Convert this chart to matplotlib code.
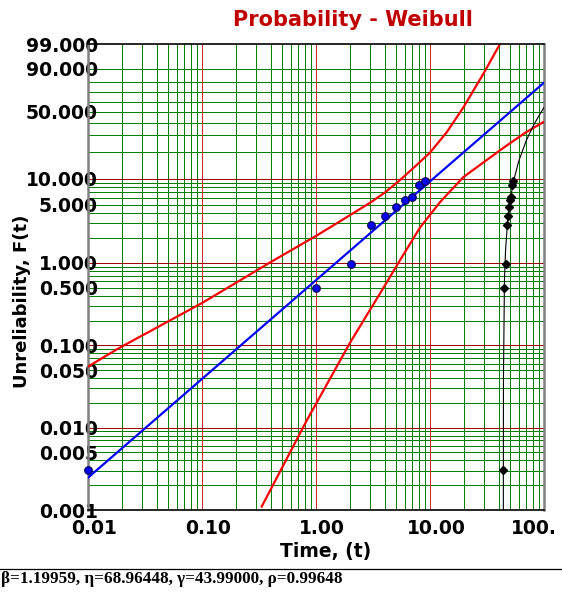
import numpy as np
import matplotlib
matplotlib.use("Agg")
import matplotlib.pyplot as plt
from matplotlib.lines import Line2D
from matplotlib.transforms import ScaledTranslation

# fitted parameters shown under the chart
beta, eta, gamma, rho = 1.19959, 68.96448, 43.99000, 0.99648

# failure times and unreliability (%)
times = np.array([44, 45, 46, 47, 48, 49, 50, 51, 52, 53], dtype=float)
unrel = np.array([0.0031, 0.496, 0.96, 2.84, 3.63, 4.7, 5.7, 6.1, 8.47, 9.4])

# blue fit line (shifted time t - gamma), straight on this paper
fit_t = [0.01, 100.0]
fit_F = [0.00247, 79.0]

# confidence bounds (red)
upper_t = [0.01, 0.0185, 0.1, 0.408, 1.0, 1.47, 2.98, 4.03, 5.46, 7.38, 10.0, 14.0, 19.6, 29.4, 41.1]
upper_F = [0.0553, 0.092, 0.327, 1.04, 2.12, 2.92, 5.27, 6.98, 9.73, 13.85, 19.8, 32.2, 54.1, 86.5, 99.0]
lower_t = [0.334, 0.828, 1.99, 3.89, 5.46, 8.17, 12.25, 19.6, 30.4, 45.5, 68.1, 98.7]
lower_F = [0.0011, 0.0122, 0.108, 0.496, 1.08, 2.67, 5.37, 10.5, 15.9, 22.9, 31.8, 40.4]

# black curve in unshifted time
curve_t = [43.995, 44.0, 44.09, 44.99, 46.0, 48.0, 50.0, 54.0, 60.0, 70.0, 80.0, 90.0, 100.0]
curve_F = [0.001, 0.00247, 0.0392, 0.62, 1.43, 3.24, 5.21, 9.40, 15.9, 26.7, 36.8, 45.9, 54.1]

yticks = [0.001, 0.005, 0.01, 0.05, 0.1, 0.5, 1, 5, 10, 50, 90, 99]
xticks = [0.01, 0.1, 1, 10, 100]
xlabels = ["0.01", "0.10", "1.00", "10.00", "100."]


def fwd(p):
    p = np.clip(np.asarray(p, dtype=float), 1e-10, 100 - 1e-9)
    return np.log(-np.log1p(-p / 100.0))


def inv(y):
    return 100.0 * (1.0 - np.exp(-np.exp(y)))


fig = plt.figure(figsize=(5.62, 5.92), dpi=100)
ax = fig.add_axes([88 / 562, 1 - 510 / 592, (544 - 88) / 562, (510 - 44) / 592])
ax.set_xscale("log")
ax.set_yscale("function", functions=(fwd, inv))
ax.set_xlim(0.01, 100)
ax.set_ylim(0.001, 99)

green = "#008000"
gw = 0.72

# grid
for k in [-2, -1, 0, 1]:
    for m in range(2, 10):
        ax.axvline(m * 10.0 ** k, color=green, lw=gw, zorder=1, antialiased=False)
for v in [0.1, 1, 10]:
    ax.axvline(v, color="#cc2a2a", lw=gw, zorder=1.2, antialiased=False)
for k in [-3, -2, -1, 0, 1]:
    for m in range(1, 10):
        v = m * 10.0 ** k
        if v <= 0.001 or v > 95:
            continue
        ax.axhline(v, color="#a00000" if m == 1 else green, lw=gw,
                   zorder=1.2 if m == 1 else 1, antialiased=False)

ax.plot(upper_t, upper_F, color="#ff0000", lw=1.6, zorder=3)
ax.plot(lower_t, lower_F, color="#ff0000", lw=1.6, zorder=3)
ax.plot(fit_t, fit_F, color="#0000ff", lw=1.6, zorder=3)
ax.plot(curve_t, curve_F, color="black", lw=0.8, zorder=3)
ax.plot(times - gamma, unrel, "o", ms=5.5, mfc="#0000ee", mec="#000055",
        mew=0.8, zorder=4, clip_on=False)
ax.plot(times, unrel, "D", ms=4.2, color="black", zorder=4)

ax.set_yticks(yticks)
ax.set_yticklabels(["%.3f" % v for v in yticks])
ax.yaxis.set_minor_locator(matplotlib.ticker.NullLocator())
ax.set_xticks(xticks)
ax.set_xticklabels(xlabels)
ax.xaxis.set_minor_locator(matplotlib.ticker.NullLocator())
ax.tick_params(axis="both", length=0, labelsize=13.5)
ax.tick_params(axis="y", pad=-7.2)
ax.tick_params(axis="x", pad=6.5)
xlabs = ax.get_xticklabels()
for lab in xlabs:
    lab.set_fontweight("bold")
    lab.set_transform(lab.get_transform() + ScaledTranslation(0.06, 0, fig.dpi_scale_trans))
xlabs[-1].set_ha("left")
xlabs[-1].set_transform(xlabs[-1].get_transform() + ScaledTranslation(-0.39, 0, fig.dpi_scale_trans))
for lab in ax.get_yticklabels():
    lab.set_fontweight("bold")

for side in ["left", "right"]:
    ax.spines[side].set_color("#808080")
    ax.spines[side].set_linewidth(1.8)
for side in ["top", "bottom"]:
    ax.spines[side].set_color("black")
    ax.spines[side].set_linewidth(1.2)
    ax.spines[side].set_zorder(5)

fig.text(353 / 562, 1 - 20 / 592, "Probability - Weibull", color="#c00000",
         fontsize=15, fontweight="bold", ha="center", va="center")
fig.text(22 / 562, 1 - 301 / 592, "Unreliability, F(t)", rotation=90,
         fontsize=13, fontweight="bold", ha="center", va="center")
fig.text(326 / 562, 1 - 551 / 592, "Time, (t)", fontsize=13.5,
         fontweight="bold", ha="center", va="center")

fig.add_artist(Line2D([0, 1], [1 - 568.5 / 592] * 2, transform=fig.transFigure,
                      color="black", lw=0.9))
fig.text(1 / 562, 1 - 579 / 592,
         "\u03b2=%.5f, \u03b7=%.5f, \u03b3=%.5f, \u03c1=%.5f" % (beta, eta, gamma, rho),
         family=["Liberation Serif", "DejaVu Serif"], fontweight="bold",
         fontsize=12.3, ha="left", va="center")

fig.savefig("out.png", dpi=100)
